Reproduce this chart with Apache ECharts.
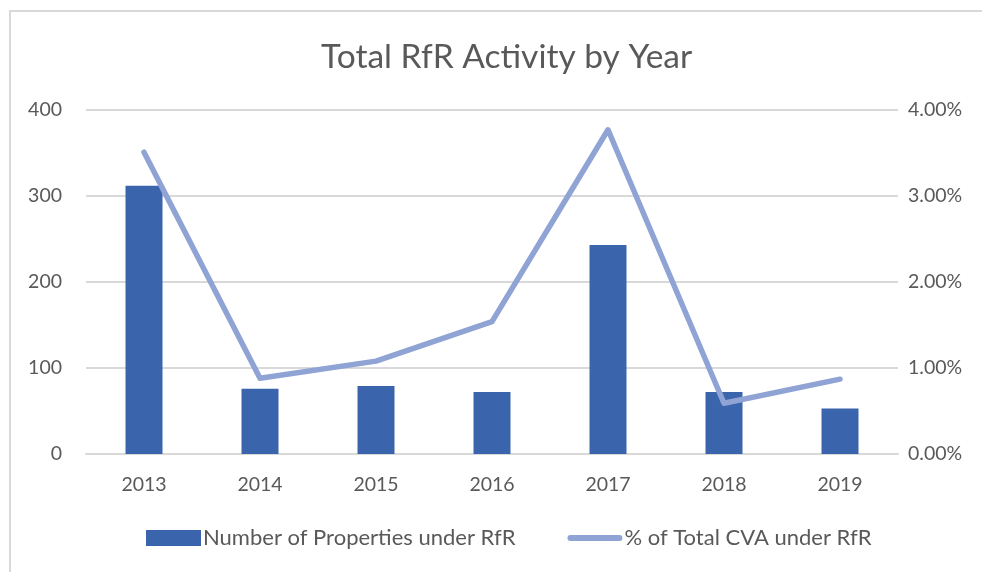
<!doctype html>
<html>
<head>
	<meta charset="utf-8">
	<title>Total RfR Activity by Year</title>
	<script src="https://cdn.jsdelivr.net/npm/echarts@6/dist/echarts.min.js"></script>
	<style>
		html, body { margin: 0; padding: 0; background: #fff; }
		#frame {
			position: absolute; left: 9px; top: 10px; width: 990px; height: 580px;
			border-left: 2px solid #d9d9d9; border-top: 2px solid #d9d9d9;
		}
		#main { position: absolute; left: 0; top: 0; width: 982px; height: 572px; }
	</style>
</head>
<body>
	<div id="frame"></div>
	<div id="main"></div>
	<script>
		// data
		var years = ['2013', '2014', '2015', '2016', '2017', '2018', '2019'];
		var properties = [312, 76, 79, 72, 243, 72, 53];
		var cvaPct = [3.51, 0.88, 1.08, 1.54, 3.77, 0.59, 0.87];

		var grey = '#595959';
		var font = 'Lato, "Open Sans", sans-serif';

		var chart = echarts.init(document.getElementById('main'));
		chart.setOption({
			animation: false,
			title: {
				text: 'Total RfR Activity by Year',
				left: 316, top: 35,
				textStyle: { fontFamily: font, fontSize: 33.5, fontWeight: 'normal', color: grey }
			},
			legend: {
				left: 141, top: 522, itemGap: 52,
				textStyle: { fontFamily: font, fontSize: 22, color: grey, padding: [0, 0, 0, -3] },
				data: [
					{ name: 'Number of Properties under RfR', icon: 'rect', itemStyle: { color: '#3a64ac' } },
					{ name: '% of Total CVA under RfR', icon: 'path://M3,0 h49 a3,3 0 0 1 0,6 h-49 a3,3 0 0 1 0,-6 Z', itemStyle: { color: '#8fa4d4' } }
				],
				itemWidth: 55, itemHeight: 16
			},
			grid: { left: 86, right: 84, top: 110, bottom: 118 },
			xAxis: {
				type: 'category', data: years,
				axisLine: { lineStyle: { color: '#d9d9d9', width: 2 } },
				axisTick: { show: false },
				axisLabel: { fontFamily: font, fontSize: 19.5, color: grey, margin: 21 }
			},
			yAxis: [
				{
					type: 'value', min: 0, max: 400, interval: 100,
					axisLine: { show: false }, axisTick: { show: false },
					splitLine: { lineStyle: { color: '#d9d9d9', width: 2 } },
					axisLabel: { fontFamily: font, fontSize: 19.5, color: grey, margin: 24 }
				},
				{
					type: 'value', min: 0, max: 4, interval: 1,
					axisLine: { show: false }, axisTick: { show: false },
					splitLine: { show: false },
					axisLabel: {
						fontFamily: font, fontSize: 19.5, color: grey, margin: 10,
						formatter: function (v) { return v.toFixed(2) + '%'; }
					}
				}
			],
			series: [
				{
					name: 'Number of Properties under RfR', type: 'bar',
					data: properties, barWidth: 37,
					itemStyle: { color: '#3a64ac' }
				},
				{
					name: '% of Total CVA under RfR', type: 'line', yAxisIndex: 1,
					data: cvaPct, symbol: 'none',
					lineStyle: { color: '#8fa4d4', width: 5.5, cap: 'round', join: 'round' },
					itemStyle: { color: '#8fa4d4' }
				}
			]
		});
	</script>
</body>
</html>
